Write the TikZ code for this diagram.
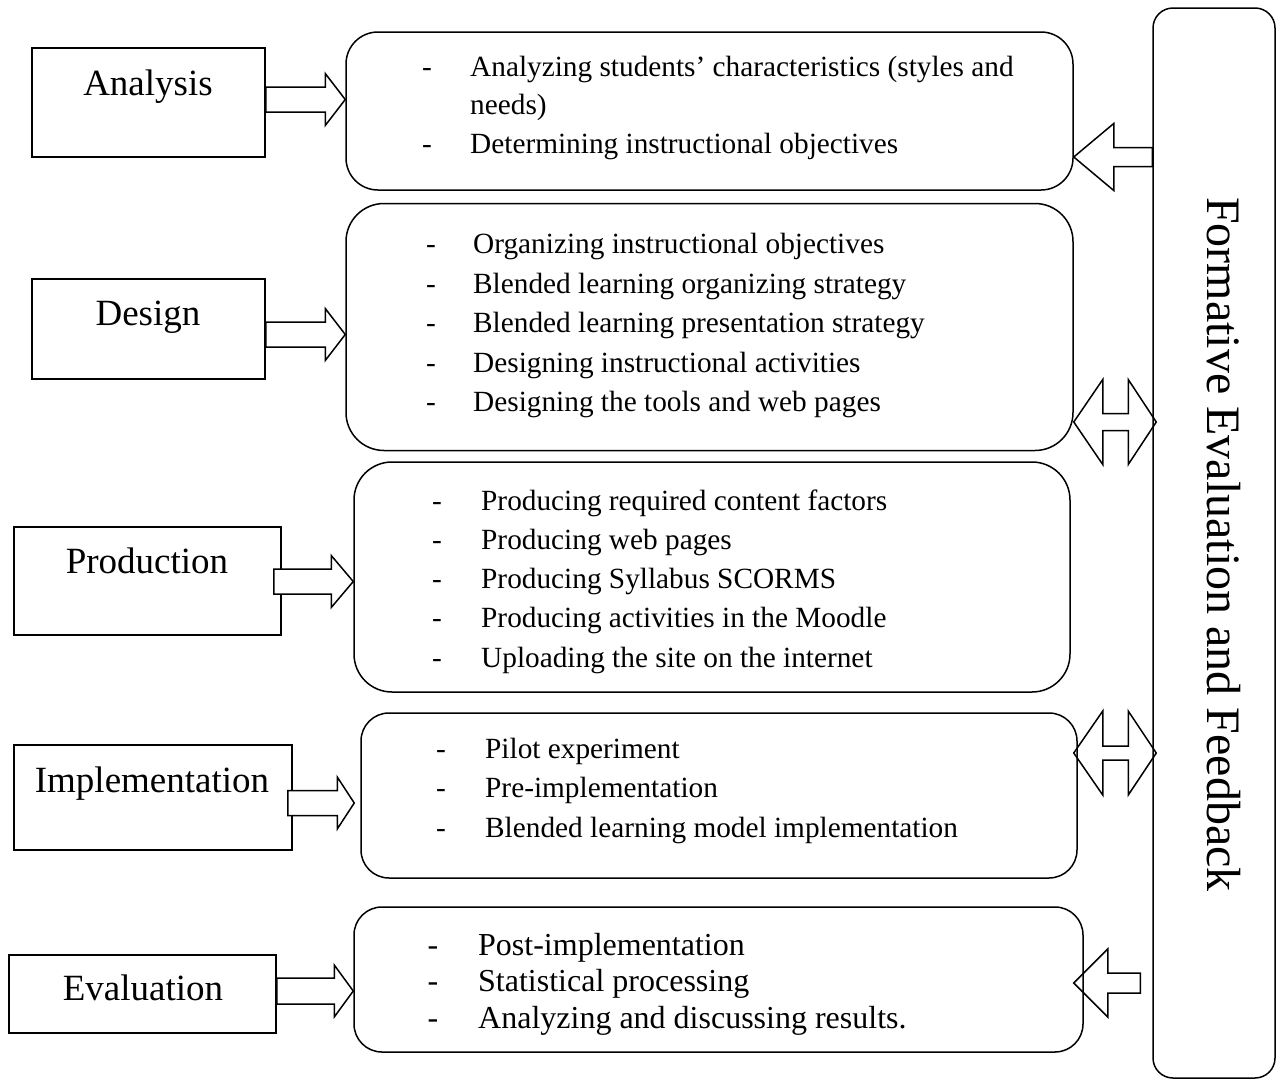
\documentclass[tikz,border=0pt]{standalone}
\usepackage{fontspec}
\setmainfont{Liberation Serif}
\usetikzlibrary{calc}

% block arrow pointing right: [style]{tail}{tip}{shaft half}{head half}{head length}
\newcommand\rblock[6][]{%
  \draw[blk,#1] let \p1=#2, \p2=#3 in
    (\x1,\y2+#4pt) -- (\x2-#6pt,\y2+#4pt) -- (\x2-#6pt,\y2+#5pt) -- (\x2,\y2)
    -- (\x2-#6pt,\y2-#5pt) -- (\x2-#6pt,\y2-#4pt) -- (\x1,\y2-#4pt) -- cycle;}
% block arrow pointing left: [style]{tail}{tip}{shaft half}{head half}{head length}
\newcommand\lblock[6][]{%
  \draw[blk,#1] let \p1=#2, \p2=#3 in
    (\x1,\y2+#4pt) -- (\x2+#6pt,\y2+#4pt) -- (\x2+#6pt,\y2+#5pt) -- (\x2,\y2)
    -- (\x2+#6pt,\y2-#5pt) -- (\x2+#6pt,\y2-#4pt) -- (\x1,\y2-#4pt) -- cycle;}
% two-headed block arrow: [style]{left tip}{right tip}{shaft half}{head half}{left head}{right head}
\newcommand\dblock[7][]{%
  \draw[blk,#1] let \p1=#2, \p2=#3 in
    (\x1,\y1) -- (\x1+#6pt,\y1-#5pt) -- (\x1+#6pt,\y1-#4pt) -- (\x2-#7pt,\y1-#4pt)
    -- (\x2-#7pt,\y1-#5pt) -- (\x2,\y1) -- (\x2-#7pt,\y1+#5pt) -- (\x2-#7pt,\y1+#4pt)
    -- (\x1+#6pt,\y1+#4pt) -- (\x1+#6pt,\y1+#5pt) -- cycle;}

\begin{document}
\begin{tikzpicture}[x=1pt,y=-1pt,
  stage/.style={draw, line width=1.5pt, inner sep=0pt},
  listbox/.style={draw, line width=1.5pt, inner sep=0pt, rounded corners=#1},
  listbox/.default=30pt,
  blk/.style={draw, line width=1.5pt, line join=miter},
  lbl/.style={font=\fontsize{37}{44}\selectfont, inner sep=0pt, anchor=base},
  items/.style={font=\fontsize{29.3}{#1}\selectfont, inner sep=0pt, anchor=base west},
  items/.default=39.5,
  dashes/.style={font=\fontsize{29.3}{#1}\selectfont, inner sep=0pt, anchor=base},
  dashes/.default=39.5,
  bigitems/.style={font=\fontsize{32}{36.5}\selectfont, inner sep=0pt},
]
\useasboundingbox (0,0) rectangle (1283,1079);

% stage boxes on the left
\node[stage, minimum width=233pt, minimum height=109pt] (ana) at (148.5,102.5) {};
\node[stage, minimum width=233pt, minimum height=100pt] (des) at (148.5,329) {};
\node[stage, minimum width=267pt, minimum height=108pt] (pro) at (147.5,581) {};
\node[stage, minimum width=278pt, minimum height=105pt] (imp) at (153,797.5) {};
\node[stage, minimum width=267pt, minimum height=78pt] (eva) at (142.5,994) {};

\node[lbl] (anaT) at (148,95) {Analysis};
\node[lbl] (desT) at (148,325) {Design};
\node[lbl] (proT) at (147,573) {Production};
\node[lbl] (impT) at (152,792) {Implementation};
\node[lbl] (evaT) at (143,1000) {Evaluation};

% activity boxes
\node[listbox=32pt, minimum width=727pt, minimum height=158pt] (b1) at (709.5,111) {};
\node[listbox=38pt, minimum width=727pt, minimum height=247pt] (b2) at (709.5,327) {};
\node[listbox=38pt, minimum width=716pt, minimum height=230pt] (b3) at (712,577) {};
\node[listbox=28pt, minimum width=716pt, minimum height=165pt] (b4) at (719,795.5) {};
\node[listbox=28pt, minimum width=729pt, minimum height=145pt] (b5) at (718.5,979.5) {};

% feedback column
\node[listbox=20pt, minimum width=122pt, minimum height=1070pt] (big) at (1214,543) {};
\node[rotate=-90, anchor=base west, inner sep=0pt, font=\fontsize{48}{50}\selectfont]
  (bigT) at (1207,197) {Formative Evaluation and Feedback};

% box contents
\node[dashes=38.5] (d1) at (427,76) {\begin{tabular}[t]{@{}c@{}}-\\ \\-\end{tabular}};
\node[items=38.5] (t1) at (470,76) {\begin{tabular}[t]{@{}l@{}}Analyzing students’ characteristics (styles and\\needs)\\Determining instructional objectives\end{tabular}};

\node[dashes] (d2) at (431,253.5) {\begin{tabular}[t]{@{}c@{}}-\\-\\-\\-\\-\end{tabular}};
\node[items] (t2) at (473,253.5) {\begin{tabular}[t]{@{}l@{}}Organizing instructional objectives\\Blended learning organizing strategy\\Blended learning presentation strategy\\Designing instructional activities\\Designing the tools and web pages\end{tabular}};

\node[dashes=39.3] (d3) at (437,510) {\begin{tabular}[t]{@{}c@{}}-\\-\\-\\-\\-\end{tabular}};
\node[items=39.3] (t3) at (481,510) {\begin{tabular}[t]{@{}l@{}}Producing required content factors\\Producing web pages\\Producing Syllabus SCORMS\\Producing activities in the Moodle\\Uploading the site on the internet\end{tabular}};

\node[dashes] (d4) at (441,758) {\begin{tabular}[t]{@{}c@{}}-\\-\\-\end{tabular}};
\node[items] (t4) at (485,758) {\begin{tabular}[t]{@{}l@{}}Pilot experiment\\Pre-implementation\\Blended learning model implementation\end{tabular}};

\node[bigitems, anchor=base] (d5) at (433,955) {\begin{tabular}[t]{@{}c@{}}-\\-\\-\end{tabular}};
\node[bigitems, anchor=base west] (t5) at (478,955) {\begin{tabular}[t]{@{}l@{}}Post-implementation\\Statistical processing\\Analyzing and discussing results.\end{tabular}};

% arrows from the stages to their activities
\rblock{(ana.east|-0,99.5)}{(b1.west|-0,99.5)}{12.5}{26}{20}
\rblock{(des.east|-0,334.5)}{(b2.west|-0,334.5)}{12.5}{26}{20}
\rblock[fill=white]{([xshift=-8pt]pro.east|-0,581.5)}{(b3.west|-0,581.5)}{12.5}{26}{22}
\rblock[fill=white]{([xshift=-5pt]imp.east|-0,803)}{([xshift=-6pt]b4.west|-0,803)}{12.5}{26}{17}
\rblock{(eva.east|-0,991)}{(b5.west|-0,991)}{13}{26}{19}

% arrows between the feedback column and the activities
\lblock{(big.west|-0,157)}{(b1.east|-0,157)}{9.5}{33.5}{40}
\dblock{(b2.east|-0,422)}{([xshift=4pt]big.west|-0,422)}{8.5}{42.5}{29}{28}
\dblock{([xshift=-4pt]b4.east|-0,753)}{([xshift=4pt]big.west|-0,753)}{7}{42}{29}{28}
\lblock{([xshift=-12pt]big.west|-0,983)}{([xshift=-10pt]b5.east|-0,983)}{10}{34}{34}
\end{tikzpicture}
\end{document}
